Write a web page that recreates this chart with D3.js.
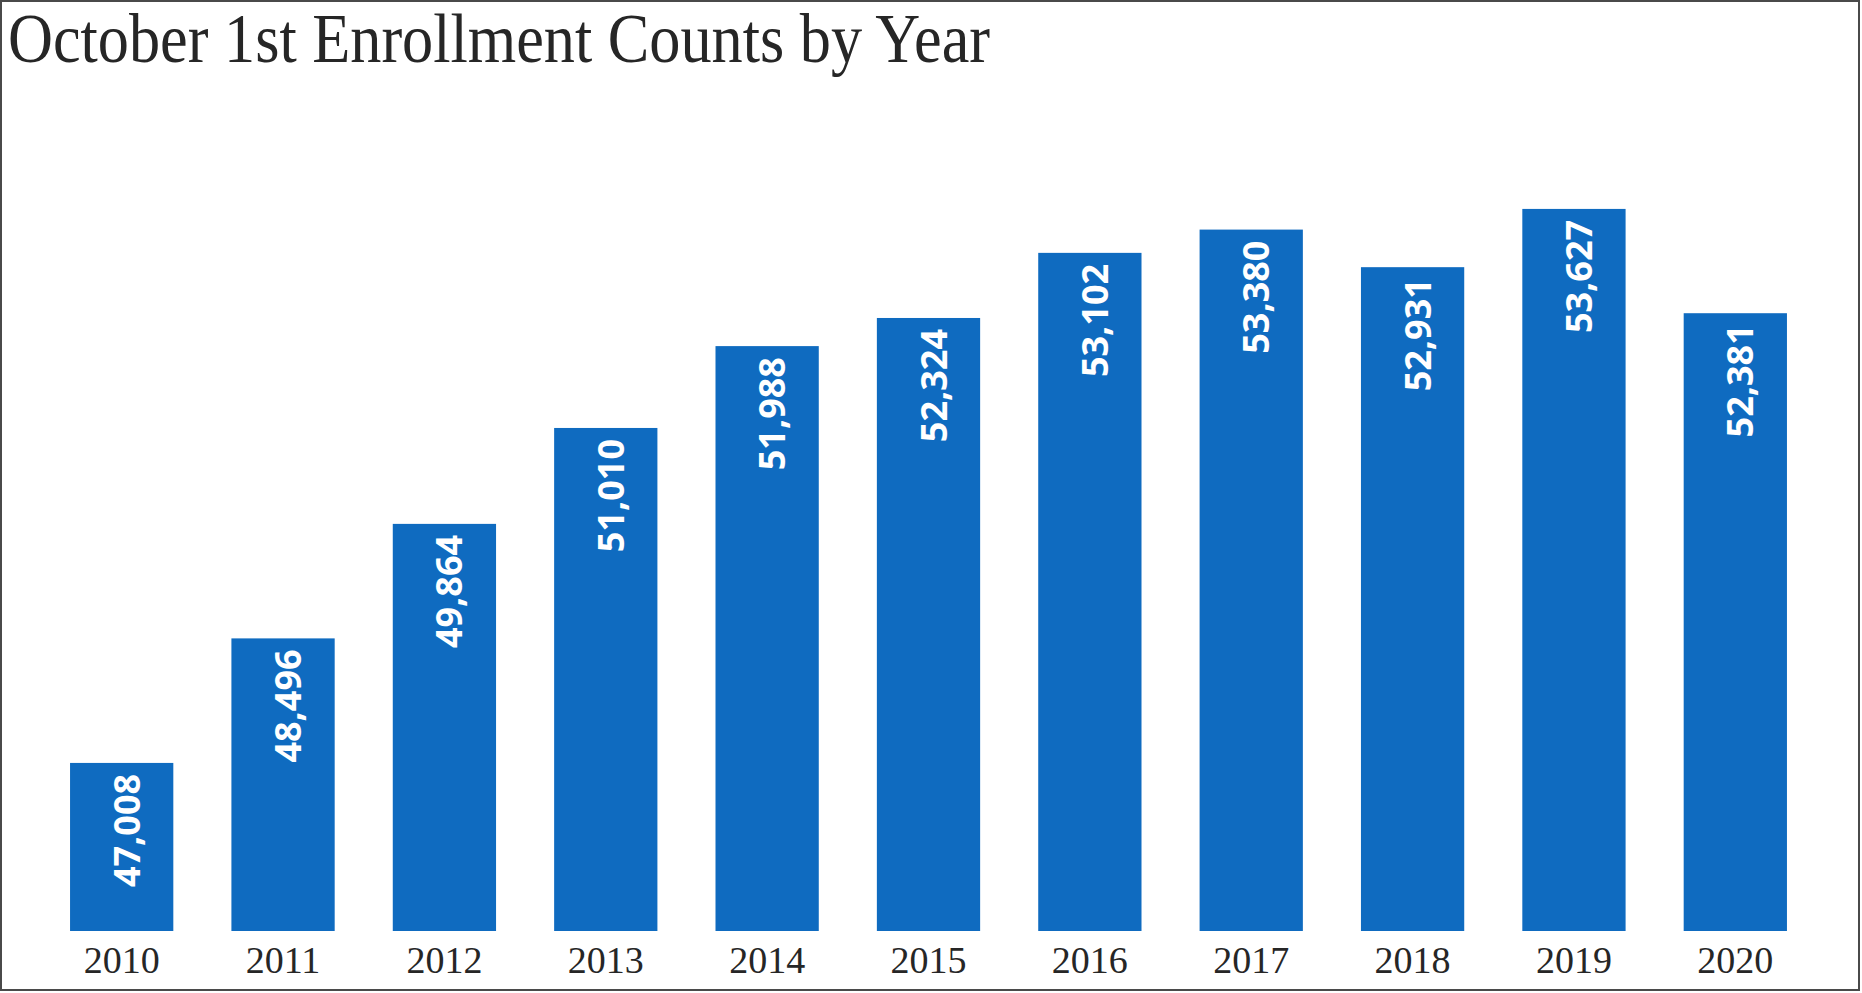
<!DOCTYPE html>
<html>
<head>
<meta charset="utf-8">
<script src="https://cdn.jsdelivr.net/npm/d3@7"></script>
<style>
  body { margin: 0; background: #fff; }
  svg { display: block; }
</style>
</head>
<body>
<svg id="chart" width="1862" height="993"></svg>
<script>
// data
const years = ["2010", "2011", "2012", "2013", "2014", "2015", "2016", "2017", "2018", "2019", "2020"]
const counts = [47008, 48496, 49864, 51010, 51988, 52324, 53102, 53380, 52931, 53627, 52381]
const titleText = "October 1st Enrollment Counts by Year"

const width = 1862
const height = 993
const baseY = 931

const svg = d3.select("#chart")

// frame
svg.append("rect")
    .attr("x", 1).attr("y", 1)
    .attr("width", width - 4).attr("height", height - 4)
    .attr("fill", "#fff")
    .attr("stroke", "#4a4a4a")
    .attr("stroke-width", 2)

// title
svg.append("text")
    .attr("x", 8)
    .attr("y", 62)
    .attr("font-family", "'Liberation Serif', serif")
    .attr("font-size", 69)
    .attr("fill", "#262626")
    .attr("textLength", 982)
    .attr("lengthAdjust", "spacingAndGlyphs")
    .text(titleText)

// scales
const xScale = d3.scaleBand()
    .domain(years)
    .range([41, 1816])
    .paddingInner(0.36)
    .paddingOuter(0.18)

const yScale = d3.scaleLinear()
    .domain([45000, 55000])
    .range([baseY, 94])

const rows = years.map((y, i) => ({ year: y, value: counts[i] }))

// bars
svg.append("g")
    .selectAll("rect")
    .data(rows)
    .join("rect")
    .attr("x", d => xScale(d.year))
    .attr("y", d => yScale(d.value))
    .attr("width", xScale.bandwidth())
    .attr("height", d => baseY - yScale(d.value))
    .attr("fill", "#0f6bc0")

// value labels, rotated inside the bar top
const fmt = d3.format(",")
svg.append("g")
    .selectAll("text")
    .data(rows)
    .join("text")
    .attr("transform", d => `translate(${xScale(d.year) + xScale.bandwidth() / 2},${yScale(d.value)}) rotate(-90)`)
    .attr("x", -11)
    .attr("y", 18)
    .attr("text-anchor", "end")
    .attr("font-family", "'Open Sans', sans-serif")
    .attr("font-weight", "bold")
    .attr("font-size", 36)
    .attr("fill", "#fff")
    .text(d => fmt(d.value))

// x axis labels
const xAxis = d3.axisBottom(xScale).tickSize(0).tickPadding(0)
const gx = svg.append("g")
    .attr("transform", `translate(0,${baseY})`)
    .call(xAxis)
gx.select(".domain").remove()
gx.selectAll("text")
    .attr("y", 42)
    .attr("dy", 0)
    .attr("font-family", "'Liberation Serif', serif")
    .attr("font-size", 38)
    .attr("fill", "#262626")
</script>
</body>
</html>
